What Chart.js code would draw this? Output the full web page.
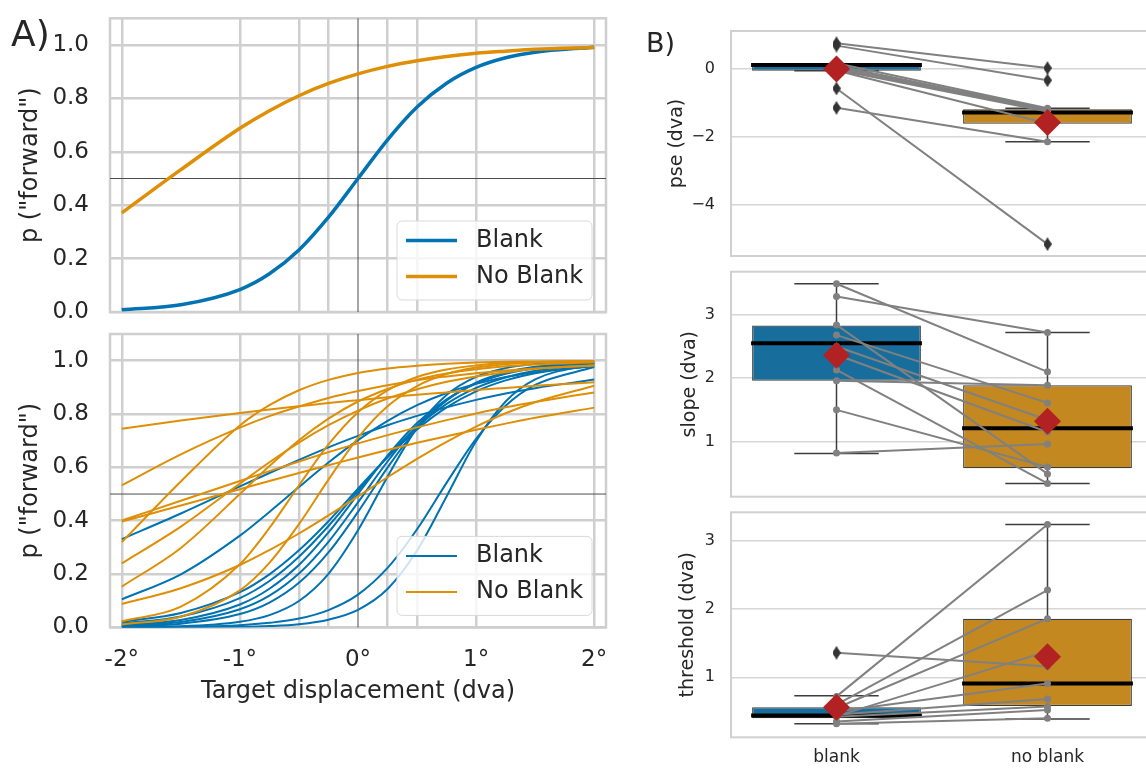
<!DOCTYPE html>
<html>
<head>
<meta charset="utf-8">
<title>Blank vs no blank</title>
<script src="https://cdn.jsdelivr.net/npm/chart.js"></script>
<style>
  html, body { margin: 0; padding: 0; background: #fff; }
  body { width: 1146px; height: 769px; overflow: hidden; position: relative;
         font-family: "DejaVu Sans", sans-serif; color: #262626; }
  canvas { position: absolute; }
  .tag { position: absolute; line-height: 1; }
</style>
</head>
<body>
<canvas id="fitGroup" width="620" height="330" style="left:0; top:0;"></canvas>
<canvas id="fitSubjects" width="620" height="449" style="left:0; top:320px;"></canvas>
<canvas id="pseBox" width="513" height="262" style="left:640px; top:0;"></canvas>
<canvas id="slopeBox" width="513" height="240" style="left:640px; top:262px;"></canvas>
<canvas id="threshBox" width="513" height="267" style="left:640px; top:502px;"></canvas>
<div class="tag" style="left:11px; top:16px; font-size:36px;">A)</div>
<div class="tag" style="left:646px; top:29px; font-size:27px;">B)</div>
<script>
Chart.defaults.font.family = '"DejaVu Sans", sans-serif';
Chart.defaults.color = '#262626';

const BLUE = '#0173b2', ORANGE = '#de8f05';
const BOX_BLUE = '#176e9c', BOX_ORANGE = '#c38820';
const GRID = '#cfcfcf';

// ---- psychometric fits (A) ----
const dispX = [-2, -1.5, -1, -0.75, -0.5, -0.25, 0, 0.25, 0.5, 0.75, 1, 1.25, 1.5, 2];
const dispTicks = [-2, -1, -0.5, -0.25, 0, 0.25, 0.5, 1, 2];
const probTicks = [0, 0.2, 0.4, 0.6, 0.8, 1.0];

const groupBlank = [0.008, 0.027, 0.084, 0.143, 0.232, 0.355, 0.5, 0.645, 0.768, 0.857, 0.916, 0.952, 0.973, 0.992];
const groupNoBlank = [0.371, 0.533, 0.688, 0.754, 0.810, 0.856, 0.892, 0.920, 0.941, 0.957, 0.969, 0.977, 0.984, 0.991];

// one row per subject
const curvesBlank = [
  [0.331, 0.427, 0.529, 0.579, 0.628, 0.675, 0.718, 0.758, 0.793, 0.825, 0.853, 0.877, 0.897, 0.929],
  [0.105, 0.199, 0.344, 0.433, 0.526, 0.618, 0.702, 0.774, 0.833, 0.879, 0.913, 0.939, 0.957, 0.979],
  [0.001, 0.004, 0.021, 0.046, 0.099, 0.201, 0.364, 0.565, 0.748, 0.871, 0.939, 0.972, 0.988, 0.998],
  [0.004, 0.014, 0.050, 0.093, 0.167, 0.281, 0.433, 0.599, 0.745, 0.851, 0.918, 0.956, 0.977, 0.994],
  [0.006, 0.020, 0.068, 0.119, 0.202, 0.321, 0.469, 0.622, 0.755, 0.852, 0.915, 0.953, 0.974, 0.992],
  [0.009, 0.028, 0.086, 0.145, 0.234, 0.356, 0.500, 0.644, 0.766, 0.855, 0.915, 0.951, 0.972, 0.991],
  [0.015, 0.041, 0.110, 0.174, 0.265, 0.380, 0.511, 0.640, 0.752, 0.838, 0.898, 0.937, 0.962, 0.987],
  [0.021, 0.054, 0.132, 0.199, 0.289, 0.398, 0.520, 0.638, 0.742, 0.825, 0.885, 0.926, 0.953, 0.982],
  [0.0005, 0.002, 0.008, 0.017, 0.033, 0.065, 0.123, 0.223, 0.368, 0.542, 0.707, 0.831, 0.909, 0.976],
  [0.0001, 0.0004, 0.002, 0.005, 0.012, 0.029, 0.066, 0.144, 0.288, 0.491, 0.698, 0.847, 0.930, 0.987]
];
const curvesNoBlank = [
  [0.745, 0.776, 0.804, 0.817, 0.829, 0.841, 0.852, 0.863, 0.872, 0.881, 0.890, 0.898, 0.906, 0.919],
  [0.533, 0.649, 0.749, 0.792, 0.828, 0.860, 0.886, 0.908, 0.927, 0.941, 0.953, 0.963, 0.971, 0.982],
  [0.397, 0.457, 0.518, 0.549, 0.579, 0.608, 0.637, 0.665, 0.692, 0.717, 0.741, 0.764, 0.786, 0.824],
  [0.401, 0.475, 0.549, 0.586, 0.622, 0.657, 0.690, 0.721, 0.750, 0.777, 0.802, 0.825, 0.845, 0.881],
  [0.320, 0.547, 0.757, 0.833, 0.889, 0.928, 0.954, 0.971, 0.981, 0.988, 0.993, 0.996, 0.997, 0.999],
  [0.240, 0.378, 0.539, 0.619, 0.693, 0.758, 0.813, 0.858, 0.893, 0.921, 0.941, 0.957, 0.969, 0.983],
  [0.153, 0.298, 0.500, 0.605, 0.702, 0.783, 0.847, 0.894, 0.929, 0.952, 0.968, 0.979, 0.986, 0.994],
  [0.088, 0.147, 0.234, 0.290, 0.352, 0.420, 0.491, 0.563, 0.632, 0.696, 0.753, 0.803, 0.844, 0.906],
  [0.011, 0.040, 0.139, 0.242, 0.387, 0.554, 0.711, 0.829, 0.905, 0.950, 0.974, 0.987, 0.993, 0.999],
  [0.023, 0.078, 0.237, 0.373, 0.532, 0.686, 0.807, 0.889, 0.939, 0.967, 0.982, 0.991, 0.995, 0.999]
];

// ---- fitted parameters per subject (B) ----
const conditions = ['blank', 'no blank'];

const pseBlank   = [0.76, 0.69, 0.17, 0.10, 0.05, 0.00, -0.02, -0.04, -0.57, -1.14];
const pseNoBlank = [0.03, -0.33, -1.15, -1.18, -1.20, -1.22, -1.25, -1.60, -5.15, -2.14];
const pseLo = [-0.05, -2.14], pseQ1 = [-0.05, -1.61], pseMed = [0.12, -1.28], pseQ3 = [0.13, -1.18], pseHi = [0.15, -1.15];
const pseMean = [0.0, -1.57];
const pseFliersBlank = [0.76, 0.69, -0.57, -1.14], pseFliersNoBlank = [0.03, -0.33, -5.15];

const slopeBlank   = [3.49, 3.29, 2.84, 2.68, 2.50, 2.37, 2.13, 1.96, 1.50, 0.82];
const slopeNoBlank = [2.10, 2.72, 0.49, 1.61, 1.34, 1.15, 0.34, 1.89, 0.60, 0.96];
const slopeLo = [0.81, 0.34], slopeQ1 = [1.96, 0.58], slopeMed = [2.55, 1.21], slopeQ3 = [2.83, 1.89], slopeHi = [3.49, 2.72];
const slopeMean = [2.36, 1.32];

const threshBlank   = [0.72, 1.36, 0.60, 0.55, 0.50, 0.45, 0.43, 0.42, 0.35, 0.32];
const threshNoBlank = [3.24, 1.16, 2.28, 1.86, 0.91, 0.68, 1.38, 0.57, 0.52, 0.40];
const threshLo = [0.32, 0.39], threshQ1 = [0.40, 0.58], threshMed = [0.44, 0.91], threshQ3 = [0.56, 1.86], threshHi = [0.73, 3.24];
const threshMean = [0.56, 1.30];
const threshFliersBlank = [1.36], threshFliersNoBlank = [];

// ---- plugins ----
const frame = {
  id: 'frame',
  beforeDatasetsDraw(chart, args, opts) {
    const {ctx, chartArea: a} = chart;
    ctx.save();
    ctx.strokeStyle = opts.color;
    ctx.lineWidth = opts.width;
    ctx.strokeRect(a.left, a.top, a.right - a.left, a.bottom - a.top);
    ctx.restore();
  }
};

// x = 0 and p = 0.5 reference lines
const guides = {
  id: 'guides',
  beforeDatasetsDraw(chart) {
    const {ctx, chartArea: a, scales: {x, y}} = chart;
    const px = x.getPixelForValue(0), py = y.getPixelForValue(0.5);
    ctx.save();
    ctx.strokeStyle = '#4d4d4d';
    ctx.lineWidth = 1;
    ctx.beginPath();
    ctx.moveTo(px, a.top); ctx.lineTo(px, a.bottom);
    ctx.moveTo(a.left, py); ctx.lineTo(a.right, py);
    ctx.stroke();
    ctx.restore();
  }
};

// legend box in the lower right corner of the plot
const keyBox = {
  id: 'keyBox',
  afterDraw(chart, args, opts) {
    const {ctx, chartArea: a} = chart;
    const w = 195, h = 79;
    const x0 = a.right - 14 - w, y0 = a.bottom - 12 - h;
    ctx.save();
    ctx.beginPath();
    ctx.roundRect(x0, y0, w, h, 5);
    ctx.fillStyle = 'rgba(255,255,255,0.8)';
    ctx.fill();
    ctx.strokeStyle = '#d9d9d9';
    ctx.lineWidth = 1;
    ctx.stroke();
    ctx.font = '24px "DejaVu Sans"';
    ctx.textBaseline = 'middle';
    opts.items.forEach((it, i) => {
      const y = y0 + 19.5 + i * 36;
      ctx.strokeStyle = it.color;
      ctx.lineWidth = opts.lineWidth;
      ctx.beginPath();
      ctx.moveTo(x0 + 9, y); ctx.lineTo(x0 + 60, y);
      ctx.stroke();
      ctx.fillStyle = '#262626';
      ctx.fillText(it.label, x0 + 79, y);
    });
    ctx.restore();
  }
};

// whiskers, caps and medians on top of the floating bars
const boxParts = {
  id: 'boxParts',
  afterDatasetDraw(chart, args, opts) {
    if (args.index !== 0) return;
    const {ctx, scales: {y}} = chart;
    args.meta.data.forEach((bar, i) => {
      const half = bar.width / 2;
      const yHi = y.getPixelForValue(opts.hi[i]), yLo = y.getPixelForValue(opts.lo[i]);
      ctx.save();
      ctx.strokeStyle = '#3d3d3d';
      ctx.lineWidth = 1.5;
      ctx.beginPath();
      ctx.moveTo(bar.x, yHi); ctx.lineTo(bar.x, y.getPixelForValue(opts.q3[i]));
      ctx.moveTo(bar.x, yLo); ctx.lineTo(bar.x, y.getPixelForValue(opts.q1[i]));
      ctx.moveTo(bar.x - half / 2, yHi); ctx.lineTo(bar.x + half / 2, yHi);
      ctx.moveTo(bar.x - half / 2, yLo); ctx.lineTo(bar.x + half / 2, yLo);
      ctx.stroke();
      const ym = y.getPixelForValue(opts.med[i]);
      ctx.strokeStyle = '#000';
      ctx.lineWidth = 4;
      ctx.beginPath();
      ctx.moveTo(bar.x - half - 1, ym); ctx.lineTo(bar.x + half + 1, ym);
      ctx.stroke();
      ctx.restore();
    });
  }
};

function thinDiamond(w, h, color) {
  const c = document.createElement('canvas');
  c.width = w; c.height = h;
  const g = c.getContext('2d');
  g.fillStyle = color;
  g.beginPath();
  g.moveTo(w / 2, 0); g.lineTo(w, h / 2); g.lineTo(w / 2, h); g.lineTo(0, h / 2);
  g.closePath();
  g.fill();
  return c;
}
const flierMark = thinDiamond(8, 14, '#333333');

// ---- A) fit panels ----
function fitChart(id, series, o) {
  return new Chart(document.getElementById(id), {
    type: 'line',
    data: {
      datasets: series.map(s => ({
        label: s.label,
        data: dispX.map((x, i) => ({x: x, y: s.values[i]})),
        borderColor: s.color,
        borderWidth: o.lineWidth,
        pointRadius: 0,
        cubicInterpolationMode: 'monotone',
        order: s.color === ORANGE ? 1 : 2
      }))
    },
    options: {
      responsive: false,
      animation: false,
      events: [],
      layout: { padding: o.padding, autoPadding: false },
      plugins: {
        legend: { display: false },
        tooltip: { enabled: false },
        frame: { color: GRID, width: 2.5 },
        keyBox: { items: [{label: 'Blank', color: BLUE}, {label: 'No Blank', color: ORANGE}], lineWidth: o.lineWidth }
      },
      scales: {
        x: {
          type: 'linear', min: -2.1, max: 2.1,
          afterBuildTicks: s => { s.ticks = dispTicks.map(v => ({value: v})); },
          afterFit: s => { s.height = o.xHeight; s.paddingLeft = 0; s.paddingRight = 0; },
          grid: { color: c => (c.tick && c.tick.value === 0) ? 'rgba(0,0,0,0)' : GRID, lineWidth: 2.5, drawTicks: false },
          border: { display: false },
          ticks: {
            display: o.xLabels, autoSkip: false, maxRotation: 0, padding: 18.8, font: { size: 23 },
            callback: v => Number.isInteger(v) ? v + '°' : ''
          },
          title: { display: o.xLabels, text: 'Target displacement (dva)', font: { size: 24 }, padding: { top: 0, bottom: 1.3 } }
        },
        y: {
          min: 0, max: 1.1,
          afterBuildTicks: s => { s.ticks = probTicks.map(v => ({value: v})); },
          afterFit: s => { s.width = 110; s.paddingTop = 0; s.paddingBottom = 0; },
          grid: { color: GRID, lineWidth: 2.5, drawTicks: false },
          border: { display: false },
          ticks: { padding: 21, font: { size: 23 }, callback: v => v.toFixed(1) },
          title: { display: true, text: 'p ("forward")', font: { size: 24 }, padding: { top: 16.6, bottom: 0 } }
        }
      }
    },
    plugins: [frame, guides, keyBox]
  });
}

fitChart('fitGroup', [
  {label: 'Blank', color: BLUE, values: groupBlank},
  {label: 'No Blank', color: ORANGE, values: groupNoBlank}
], { lineWidth: 3.5, xLabels: false, xHeight: 0, padding: { top: 18.3, right: 14, bottom: 18, left: 0 } });

fitChart('fitSubjects', [
  ...curvesBlank.map(v => ({label: 'Blank', color: BLUE, values: v})),
  ...curvesNoBlank.map(v => ({label: 'No Blank', color: ORANGE, values: v}))
], { lineWidth: 2, xLabels: true, xHeight: 80, padding: { top: 14, right: 14, bottom: 61.6, left: 0 } });

// ---- B) box panels ----
const minus = v => v < 0 ? '\u2212' + Math.abs(v) : String(v);

function boxChart(id, p) {
  const subjects = p.blank.map((b, i) => ({
    type: 'line', data: [b, p.noBlank[i]],
    borderColor: '#808080', borderWidth: 2,
    pointRadius: 3.5, pointBackgroundColor: '#808080', pointBorderWidth: 0,
    order: 5
  }));
  const fliers = [
    ...p.fliersBlank.map(v => ({x: 'blank', y: v})),
    ...p.fliersNoBlank.map(v => ({x: 'no blank', y: v}))
  ];
  return new Chart(document.getElementById(id), {
    type: 'bar',
    data: {
      labels: conditions,
      datasets: [
        {
          type: 'bar', data: p.q1.map((q, i) => [q, p.q3[i]]),
          backgroundColor: [BOX_BLUE, BOX_ORANGE], borderColor: '#3d3d3d', borderWidth: 1.3,
          borderSkipped: false, barPercentage: 0.8, categoryPercentage: 1, order: 10
        },
        ...subjects,
        { type: 'line', data: fliers, showLine: false, pointStyle: flierMark, pointRadius: 5, order: 2 },
        {
          type: 'line', data: p.mean, showLine: false, pointStyle: 'rectRot', pointRadius: 13.5,
          pointBackgroundColor: '#b22222', borderColor: '#b22222', pointBorderWidth: 0, order: 1
        }
      ]
    },
    options: {
      responsive: false,
      animation: false,
      events: [],
      layout: { padding: p.padding, autoPadding: false },
      plugins: {
        legend: { display: false },
        tooltip: { enabled: false },
        frame: { color: '#d0d0d0', width: 2 },
        boxParts: { lo: p.lo, q1: p.q1, med: p.med, q3: p.q3, hi: p.hi }
      },
      scales: {
        x: {
          type: 'category', offset: true,
          afterFit: s => { s.height = p.xHeight; s.paddingLeft = 0; s.paddingRight = 0; },
          grid: { display: false, drawTicks: false },
          border: { display: false },
          ticks: { display: p.xLabels, padding: 10.5, font: { size: 17 } }
        },
        y: {
          type: 'linear', min: p.min, max: p.max,
          afterBuildTicks: s => { s.ticks = p.ticks.map(v => ({value: v})); },
          afterFit: s => { s.width = 91; s.paddingTop = 0; s.paddingBottom = 0; },
          grid: { color: '#d6d6d6', lineWidth: 1.5, drawTicks: false },
          border: { display: false },
          ticks: { padding: 16, font: { size: 16 }, callback: minus },
          title: { display: true, text: p.title, font: { size: 19 }, padding: { top: p.titlePad, bottom: 0 } }
        }
      }
    },
    plugins: [frame, boxParts]
  });
}

boxChart('pseBox', {
  title: 'pse (dva)', titlePad: 25.3, min: -5.5, max: 1.12, ticks: [-4, -2, 0],
  blank: pseBlank, noBlank: pseNoBlank,
  lo: pseLo, q1: pseQ1, med: pseMed, q3: pseQ3, hi: pseHi, mean: pseMean,
  fliersBlank: pseFliersBlank, fliersNoBlank: pseFliersNoBlank,
  xLabels: false, xHeight: 0, padding: { top: 31, bottom: 6, left: 0, right: 0 }
});

boxChart('slopeBox', {
  title: 'slope (dva)', titlePad: 38.6, min: 0.13, max: 3.68, ticks: [1, 2, 3],
  blank: slopeBlank, noBlank: slopeNoBlank,
  lo: slopeLo, q1: slopeQ1, med: slopeMed, q3: slopeQ3, hi: slopeHi, mean: slopeMean,
  fliersBlank: [], fliersNoBlank: [],
  xLabels: false, xHeight: 0, padding: { top: 9.7, bottom: 5.3, left: 0, right: 0 }
});

boxChart('threshBox', {
  title: 'threshold (dva)', titlePad: 36.6, min: 0.12, max: 3.42, ticks: [1, 2, 3],
  blank: threshBlank, noBlank: threshNoBlank,
  lo: threshLo, q1: threshQ1, med: threshMed, q3: threshQ3, hi: threshHi, mean: threshMean,
  fliersBlank: threshFliersBlank, fliersNoBlank: threshFliersNoBlank,
  xLabels: true, xHeight: 31.7, padding: { top: 10.3, bottom: 0, left: 0, right: 0 }
});
</script>
</body>
</html>
